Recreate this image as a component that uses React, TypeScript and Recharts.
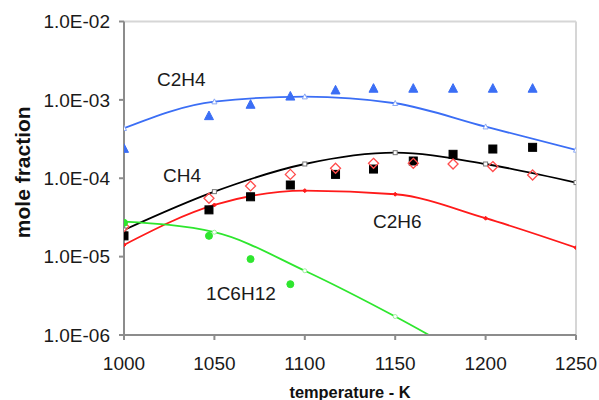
import React from "react";
import {
  ComposedChart,
  Line,
  Scatter,
  XAxis,
  YAxis,
  ReferenceLine,
  ReferenceDot,
} from "recharts";

// ---- data ----
const modelTemps = [1000, 1050, 1100, 1150, 1200, 1250];
const c2h4Model = [4.35e-4, 9.5e-4, 1.1e-3, 9.06e-4, 4.55e-4, 2.3e-4];
const ch4Model = [2.19e-5, 6.75e-5, 1.52e-4, 2.12e-4, 1.52e-4, 8.8e-5];
const c2h6Model = [1.41e-5, 4.56e-5, 6.95e-5, 6.25e-5, 3.09e-5, 1.3e-5];
const c6h12Model = [2.79e-5, 2.05e-5, 6.6e-6, 1.72e-6, 3.9e-7];

const expTemps = [1000, 1047, 1070, 1092, 1117, 1138, 1160, 1182, 1204, 1226];
const c2h4Exp = [2.41e-4, 6.3e-4, 8.8e-4, 1.12e-3, 1.34e-3, 1.41e-3, 1.41e-3, 1.41e-3, 1.41e-3, 1.41e-3];
const ch4Exp = [1.84e-5, 3.95e-5, 5.8e-5, 8.2e-5, 1.12e-4, 1.31e-4, 1.66e-4, 2.02e-4, 2.36e-4, 2.48e-4];
const c2h6Exp = [2.41e-5, 5.56e-5, 7.98e-5, 1.12e-4, 1.34e-4, 1.55e-4, 1.55e-4, 1.52e-4, 1.41e-4, 1.1e-4];
const c6h12Exp = [2.7e-5, 1.84e-5, 9.3e-6, 4.45e-6];

const xTicks = [1000, 1050, 1100, 1150, 1200, 1250];
const yTicks = [1e-6, 1e-5, 1e-4, 1e-3, 1e-2];

const seriesLabels = [
  { text: "C2H4", t: 1018.3, v: 1.82e-3 },
  { text: "CH4", t: 1021.6, v: 1.1e-4 },
  { text: "C2H6", t: 1137.7, v: 2.81e-5 },
  { text: "1C6H12", t: 1045.4, v: 3.44e-6 },
];

const toRows = (ts: number[], vs: number[]) =>
  vs.map((v, i) => ({ t: ts[i], v }));

const FONT = "'Liberation Sans', Arial, sans-serif";

const fmt = (v: number) => {
  const e = Math.round(Math.log10(v));
  const sign = e < 0 ? "-" : "+";
  return `1.0E${sign}${String(Math.abs(e)).padStart(2, "0")}`;
};

// ---- marker shapes ----
const Tri = ({ cx, cy, s, fill, stroke }: any) => {
  if (cx == null || cy == null) return <g />;
  const h = s * 0.9;
  return (
    <polygon
      points={`${cx},${cy - h / 2 - 0.5} ${cx - s / 2},${cy + h / 2} ${cx + s / 2},${cy + h / 2}`}
      fill={fill}
      stroke={stroke}
      strokeWidth={1}
    />
  );
};
const Sq = ({ cx, cy, s, fill, stroke }: any) => {
  if (cx == null || cy == null) return <g />;
  return (
    <rect x={cx - s / 2} y={cy - s / 2} width={s} height={s} fill={fill} stroke={stroke} strokeWidth={1} />
  );
};
const Dia = ({ cx, cy, s, fill, stroke, sw = 1.3 }: any) => {
  if (cx == null || cy == null) return <g />;
  const r = s / 2;
  return (
    <polygon
      points={`${cx},${cy - r} ${cx + r},${cy} ${cx},${cy + r} ${cx - r},${cy}`}
      fill={fill}
      stroke={stroke}
      strokeWidth={sw}
    />
  );
};
const Circ = ({ cx, cy, s, fill, stroke }: any) => {
  if (cx == null || cy == null) return <g />;
  return <circle cx={cx} cy={cy} r={s / 2} fill={fill} stroke={stroke} strokeWidth={1} />;
};

const mkDot = (Comp: any, opts: any) => (p: any) =>
  <Comp key={`d-${p.index}`} cx={p.cx} cy={p.cy} {...opts} />;

const BLUE = "#3b6ef5";
const RED = "#ff1a1a";
const GREEN = "#2ee62e";

export default function App() {
  return (
    <div style={{ position: "absolute", left: 0, top: 0, background: "#fff" }}>
      <ComposedChart
        width={599}
        height={400}
        margin={{ top: 21.5, right: 23, bottom: 0, left: 0 }}
      >
        <XAxis
          type="number"
          dataKey="t"
          domain={[1000, 1250]}
          ticks={xTicks}
          allowDataOverflow
          height={65}
          tickSize={5}
          tickMargin={17}
          stroke="#8c8c8c"
          strokeWidth={2}
          tick={{ fill: "#1a1a1a", fontSize: 19, fontFamily: FONT }}
          label={{
            value: "temperature - K",
            position: "insideBottom",
            offset: 2,
            style: { fontSize: 16.4, fontWeight: "bold", fontFamily: FONT, fill: "#111" },
          }}
        />
        <YAxis
          type="number"
          dataKey="v"
          scale="log"
          domain={[1e-6, 1e-2]}
          ticks={yTicks}
          allowDataOverflow
          width={124}
          tickSize={5}
          tickMargin={9}
          tickFormatter={fmt}
          stroke="#8c8c8c"
          strokeWidth={2}
          tick={{ fill: "#1a1a1a", fontSize: 19, fontFamily: FONT }}
          label={{
            content: (p: any) => {
              const vb = p.viewBox || { x: 0, y: 21.5, width: 124, height: 313.5 };
              const x = vb.x + 22;
              const y = vb.y + vb.height / 2 - 6;
              return (
                <text
                  x={x}
                  y={y}
                  transform={`rotate(-90 ${x} ${y})`}
                  textAnchor="middle"
                  dominantBaseline="central"
                  style={{ fontSize: 21, fontWeight: "bold", fontFamily: FONT, fill: "#111" }}
                >
                  mole fraction
                </text>
              );
            },
          }}
        />
        <ReferenceLine y={1e-2} stroke="#d6d6d6" strokeWidth={2} />
        <ReferenceLine x={1250} stroke="#d6d6d6" strokeWidth={2} />

        <Line
          data={toRows(modelTemps, c2h4Model)}
          dataKey="v"
          type="monotone"
          stroke={BLUE}
          strokeWidth={1.8}
          dot={mkDot(Tri, { s: 5, fill: "#fff", stroke: "#8aa8f5" })}
          isAnimationActive={false}
        />
        <Line
          data={toRows(modelTemps, ch4Model)}
          dataKey="v"
          type="monotone"
          stroke="#000"
          strokeWidth={1.8}
          dot={mkDot(Sq, { s: 4, fill: "#fff", stroke: "#777" })}
          isAnimationActive={false}
        />
        <Line
          data={toRows(modelTemps, c2h6Model)}
          dataKey="v"
          type="monotone"
          stroke={RED}
          strokeWidth={1.8}
          dot={mkDot(Dia, { s: 4, fill: RED, stroke: RED, sw: 1 })}
          isAnimationActive={false}
        />
        <Line
          data={toRows(modelTemps, c6h12Model)}
          dataKey="v"
          type="monotone"
          stroke={GREEN}
          strokeWidth={1.8}
          dot={mkDot(Circ, { s: 4, fill: "#fff", stroke: "#9ef09e" })}
          isAnimationActive={false}
        />

        <Scatter
          data={toRows(expTemps, c2h4Exp)}
          dataKey="v"
          shape={(p: any) => <Tri cx={p.cx} cy={p.cy} s={9} fill={BLUE} stroke={BLUE} />}
          isAnimationActive={false}
        />
        <Scatter
          data={toRows(expTemps, ch4Exp)}
          dataKey="v"
          shape={(p: any) => <Sq cx={p.cx} cy={p.cy} s={8} fill="#000" stroke="#000" />}
          isAnimationActive={false}
        />
        <Scatter
          data={toRows(expTemps, c2h6Exp)}
          dataKey="v"
          shape={(p: any) => <Dia cx={p.cx} cy={p.cy} s={10} fill="none" stroke="#ff4d4d" />}
          isAnimationActive={false}
        />
        <Scatter
          data={toRows(expTemps.slice(0, c6h12Exp.length), c6h12Exp)}
          dataKey="v"
          shape={(p: any) => <Circ cx={p.cx} cy={p.cy} s={7} fill={GREEN} stroke={GREEN} />}
          isAnimationActive={false}
        />

        {seriesLabels.map((l) => (
          <ReferenceDot
            key={l.text}
            x={l.t}
            y={l.v}
            r={0}
            fill="none"
            stroke="none"
            label={{
              value: l.text,
              position: "right",
              offset: 0,
              style: { fontSize: 19, fontFamily: FONT, fill: "#1a1a1a" },
            }}
          />
        ))}
      </ComposedChart>
    </div>
  );
}
